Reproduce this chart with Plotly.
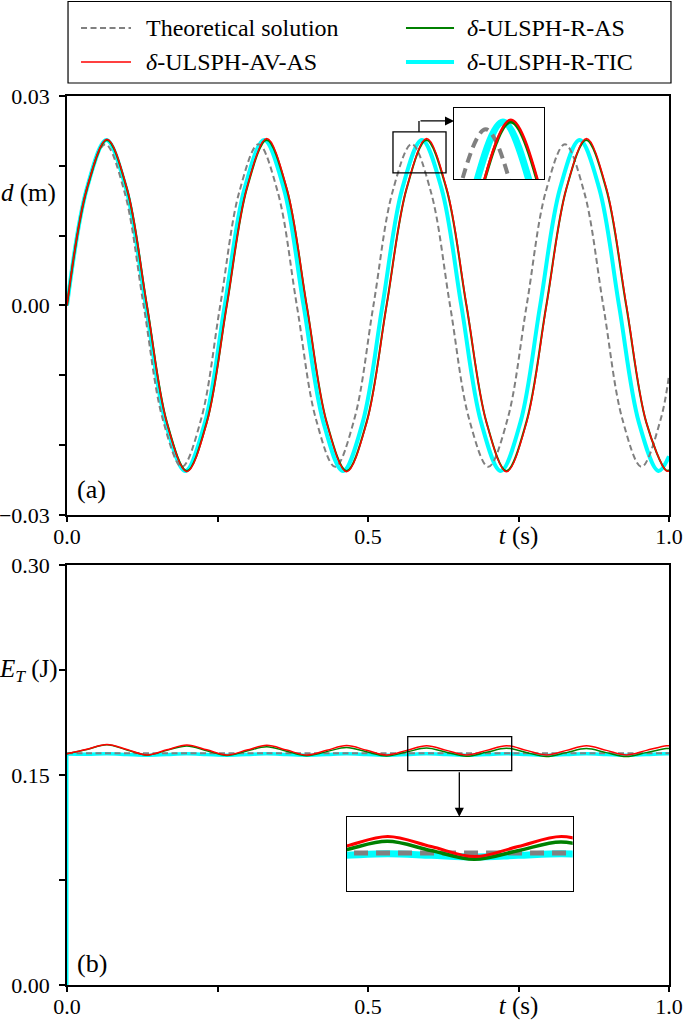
import plotly.graph_objects as go

FONT = "Liberation Serif"

# ---------------- data ----------------
# (a) displacement d (m) vs t (s)
theo_t = [0.0, 0.0318, 0.0636, 0.0954, 0.1273, 0.1591, 0.1909, 0.2227, 0.2545, 0.2863,
          0.3181, 0.3499, 0.3818, 0.4136, 0.4454, 0.4772, 0.5090, 0.5408, 0.5726, 0.6044,
          0.6363, 0.6681, 0.6999, 0.7317, 0.7635, 0.7953, 0.8271, 0.8589, 0.8908, 0.9226,
          0.9544, 0.9862, 1.0]
theo_d = [0.0, 0.0163, 0.0231, 0.0163, 0.0, -0.0163, -0.0231, -0.0163,
          0.0, 0.0163, 0.0231, 0.0163, 0.0, -0.0163, -0.0231, -0.0163,
          0.0, 0.0163, 0.0231, 0.0163, 0.0, -0.0163, -0.0231, -0.0163,
          0.0, 0.0163, 0.0231, 0.0163, 0.0, -0.0163, -0.0231, -0.0163, -0.0100]

av_t = [0.0, 0.0332, 0.0664, 0.0996, 0.1328, 0.1659, 0.1991, 0.2323, 0.2655, 0.2987,
        0.3319, 0.3651, 0.3983, 0.4315, 0.4646, 0.4978, 0.5310, 0.5642, 0.5974, 0.6306,
        0.6638, 0.6970, 0.7301, 0.7633, 0.7965, 0.8297, 0.8629, 0.8961, 0.9293, 0.9625,
        0.9956, 1.0]
av_d = [0.0, 0.0168, 0.0238, 0.0168, 0.0, -0.0168, -0.0238, -0.0168,
        0.0, 0.0168, 0.0239, 0.0168, 0.0, -0.0168, -0.0238, -0.0168,
        0.0, 0.0168, 0.0239, 0.0168, 0.0, -0.0168, -0.0238, -0.0168,
        0.0, 0.0168, 0.0239, 0.0168, 0.0, -0.0168, -0.0237, -0.0237]

ras_t = [0.0, 0.0331, 0.0663, 0.0995, 0.1327, 0.1658, 0.1990, 0.2322, 0.2654, 0.2986,
         0.3317, 0.3649, 0.3981, 0.4313, 0.4644, 0.4976, 0.5308, 0.5640, 0.5971, 0.6303,
         0.6635, 0.6967, 0.7298, 0.7630, 0.7962, 0.8294, 0.8625, 0.8957, 0.9289, 0.9621,
         0.9952, 1.0]
ras_d = [0.0, 0.0167, 0.0237, 0.0167, 0.0, -0.0167, -0.0237, -0.0167,
         0.0, 0.0167, 0.0237, 0.0167, 0.0, -0.0167, -0.0237, -0.0167,
         0.0, 0.0167, 0.0237, 0.0167, 0.0, -0.0167, -0.0237, -0.0167,
         0.0, 0.0167, 0.0237, 0.0167, 0.0, -0.0167, -0.0236, -0.0236]

tic_t = [0.0, 0.0328, 0.0655, 0.0983, 0.1310, 0.1638, 0.1965, 0.2293, 0.2620, 0.2948,
         0.3275, 0.3603, 0.3930, 0.4258, 0.4585, 0.4913, 0.5240, 0.5568, 0.5895, 0.6223,
         0.6550, 0.6878, 0.7205, 0.7533, 0.7860, 0.8188, 0.8515, 0.8843, 0.9170, 0.9498,
         0.9825, 1.0]
tic_d = [0.0, 0.0167, 0.0237, 0.0167, 0.0, -0.0167, -0.0237, -0.0167,
         0.0, 0.0167, 0.0237, 0.0167, 0.0, -0.0167, -0.0237, -0.0167,
         0.0, 0.0167, 0.0237, 0.0167, 0.0, -0.0167, -0.0237, -0.0167,
         0.0, 0.0167, 0.0237, 0.0167, 0.0, -0.0167, -0.0237, -0.0216]

# (b) total energy E_T (J) vs t (s)
theo_e_t = [0.0, 1.0]
theo_e = [0.1655, 0.1655]

av_e = [0.1652, 0.1684, 0.1718, 0.1682, 0.1643, 0.1680, 0.1714, 0.1680,
        0.1643, 0.1678, 0.1712, 0.1678, 0.1643, 0.1677, 0.1710, 0.1677,
        0.1643, 0.1676, 0.1709, 0.1676, 0.1643, 0.1676, 0.1709, 0.1676,
        0.1643, 0.1676, 0.1709, 0.1676, 0.1643, 0.1676, 0.1709, 0.1709]
ras_e = [0.1652, 0.1683, 0.1716, 0.1679, 0.1642, 0.1676, 0.1708, 0.1674,
         0.1640, 0.1671, 0.1702, 0.1670, 0.1638, 0.1667, 0.1697, 0.1666,
         0.1636, 0.1664, 0.1693, 0.1663, 0.1634, 0.1662, 0.1691, 0.1661,
         0.1632, 0.1660, 0.1689, 0.1660, 0.1632, 0.1660, 0.1689, 0.1689]
tic_e = [0.1650, 0.1648, 0.1652, 0.1647, 0.1642, 0.1647, 0.1652, 0.1647,
         0.1642, 0.1647, 0.1652, 0.1647, 0.1642, 0.1647, 0.1652, 0.1647,
         0.1642, 0.1647, 0.1652, 0.1647, 0.1642, 0.1647, 0.1652, 0.1647,
         0.1642, 0.1647, 0.1652, 0.1647, 0.1642, 0.1647, 0.1652, 0.1651]
# initial jump of the energy at t = 0
jump_t = [0.0, 0.0]
jump_e = [0.0, 0.1650]

# tick labels
x_tickvals = [0.0, 0.25, 0.5, 0.75, 1.0]
x_ticktext = ["0.0", "", "0.5", '<span style="font-size:25px"><i>t</i> (s)</span>', "1.0"]
d_tickvals = [-0.03, -0.02, -0.01, 0.0, 0.01, 0.02, 0.03]
d_ticktext = ["\u22120.03", "", "", "0.00", "", "", "0.03"]
e_tickvals = [0.0, 0.075, 0.15, 0.225, 0.30]
e_ticktext = ["0.00", "", "0.15", "", "0.30"]

names = ["Theoretical solution", "<i>\u03b4</i>-ULSPH-R-AS",
         "<i>\u03b4</i>-ULSPH-AV-AS", "<i>\u03b4</i>-ULSPH-R-TIC"]

# zoom windows (data coordinates)
zoomA_x = [0.5415, 0.6296]
zoomA_y = [0.0190, 0.02486]
zoomB_x = [0.566, 0.7387]
zoomB_y = [0.1531, 0.1774]

GRAY, GREEN, RED, CYAN = "#808080", "#008000", "#ff0000", "#00ffff"

fig = go.Figure()


def add(x, y, color, width, name, xa, ya, dash="solid", shape="spline"):
    fig.add_trace(go.Scatter(
        x=x, y=y, mode="lines", name=name, xaxis=xa, yaxis=ya,
        line=dict(color=color, width=width, dash=dash, shape=shape),
        showlegend=False, hoverinfo="skip"))


# panel (a)
add(tic_t, tic_d, CYAN, 4, names[3], "x", "y")
add(theo_t, theo_d, GRAY, 2, names[0], "x", "y", dash="6px,3.5px")
add(ras_t, ras_d, GREEN, 2, names[1], "x", "y")
add(av_t, av_d, RED, 1.5, names[2], "x", "y")

# panel (b)
add(jump_t, jump_e, CYAN, 3, "", "x2", "y2", shape="linear")
add(av_t, tic_e, CYAN, 3.5, names[3], "x2", "y2")
add(theo_e_t, theo_e, GRAY, 2, names[0], "x2", "y2", dash="6px,3.5px", shape="linear")
add(ras_t, ras_e, GREEN, 1.5, names[1], "x2", "y2")
add(av_t, av_e, RED, 1.5, names[2], "x2", "y2")

# inset (a)
add(tic_t, tic_d, CYAN, 7, names[3], "x3", "y3")
add(theo_t, theo_d, GRAY, 4, names[0], "x3", "y3", dash="10px,6px")
add(ras_t, ras_d, GREEN, 3, names[1], "x3", "y3")
add(av_t, av_d, RED, 2.5, names[2], "x3", "y3")

# inset (b)
add(av_t, tic_e, CYAN, 7, names[3], "x4", "y4")
add(theo_e_t, theo_e, GRAY, 5, names[0], "x4", "y4", dash="14px,8px", shape="linear")
add(ras_t, ras_e, GREEN, 3.5, names[1], "x4", "y4")
add(av_t, av_e, RED, 3, names[2], "x4", "y4")

tickfont = dict(family=FONT, size=22, color="black")
main_axis = dict(showline=True, mirror=True, linecolor="black", linewidth=1.5,
                 ticks="outside", ticklen=6, tickwidth=1.5, tickcolor="black",
                 showgrid=False, zeroline=False, tickfont=tickfont, tickmode="array",
                 automargin=False)
inset_axis = dict(showline=True, mirror=True, linecolor="black", linewidth=1.3,
                  ticks="", showticklabels=False, showgrid=False, zeroline=False)

fig.update_layout(
    width=685, height=1020,
    margin=dict(l=67, r=16, t=96, b=35, autoexpand=False),
    paper_bgcolor="white", plot_bgcolor="white",
    font=dict(family=FONT, size=22, color="black"),
    hovermode=False, showlegend=False,
    xaxis=dict(main_axis, domain=[0, 1], anchor="y", range=[0, 1], ticklen=5,
               tickvals=x_tickvals, ticktext=x_ticktext, ticklabelstandoff=-4),
    yaxis=dict(main_axis, domain=[0.5287, 1], anchor="x", range=[-0.03, 0.03],
               tickvals=d_tickvals, ticktext=d_ticktext, ticklabelstandoff=5),
    xaxis2=dict(main_axis, domain=[0, 1], anchor="y2", range=[0, 1], ticklen=5,
                tickvals=x_tickvals, ticktext=x_ticktext, ticklabelstandoff=-4),
    yaxis2=dict(main_axis, domain=[0, 0.4724], anchor="x2", range=[0, 0.30],
                tickvals=e_tickvals, ticktext=e_ticktext, ticklabelstandoff=5),
    xaxis3=dict(inset_axis, domain=[0.643, 0.792], anchor="y3", range=zoomA_x),
    yaxis3=dict(inset_axis, domain=[0.9066, 0.9865], anchor="x3", range=zoomA_y),
    xaxis4=dict(inset_axis, domain=[0.4646, 0.84], anchor="y4", range=zoomB_x),
    yaxis4=dict(inset_axis, domain=[0.1061, 0.1893], anchor="x4", range=zoomB_y),
)

# ---- legend box (drawn in paper coordinates above panel (a)) ----
fig.add_shape(type="rect", xref="paper", yref="paper", x0=0.0017, x1=1.0033,
              y0=1.0146, y1=1.1063, line=dict(color="black", width=1.2),
              fillcolor="white")
leg_items = [  # (name index, colour, width, dash, line x0, line x1, text x, row y)
    (0, GRAY, 2, "6px,3.5px", 0.0233, 0.1063, 0.1279, 1.0765),
    (1, GREEN, 2, "solid", 0.5631, 0.6429, 0.6611, 1.0765),
    (2, RED, 1.5, "solid", 0.0233, 0.1063, 0.1279, 1.0382),
    (3, CYAN, 4, "solid", 0.5631, 0.6429, 0.6611, 1.0382),
]
for idx, col, w, dsh, lx0, lx1, tx, ry in leg_items:
    fig.add_shape(type="line", xref="paper", yref="paper", x0=lx0, x1=lx1, y0=ry, y1=ry,
                  line=dict(color=col, width=w, dash=dsh))
    fig.add_annotation(x=tx, y=ry, xref="paper", yref="paper", text=names[idx],
                       showarrow=False, xanchor="left", yanchor="middle",
                       font=dict(family=FONT, size=24, color="black"))

fig.add_shape(type="rect", xref="x", yref="y", x0=zoomA_x[0], x1=zoomA_x[1],
              y0=zoomA_y[0], y1=zoomA_y[1], line=dict(color="black", width=1.3))
fig.add_shape(type="rect", xref="x2", yref="y2", x0=zoomB_x[0], x1=zoomB_x[1],
              y0=zoomB_y[0], y1=zoomB_y[1], line=dict(color="black", width=1.3))
# connector of inset (a): up from the box then right to the inset
fig.add_shape(type="line", xref="x", yref="y", x0=0.5847, x1=0.5847,
              y0=zoomA_y[1], y1=0.02643, line=dict(color="black", width=1.3))
fig.add_annotation(x=0.643, y=0.02643, ax=0.5847, ay=0.02643, xref="x", yref="y",
                   axref="x", ayref="y", text="", showarrow=True, arrowhead=2,
                   arrowsize=1.4, arrowwidth=1.3, arrowcolor="black", standoff=0)
# connector of inset (b)
fig.add_annotation(x=0.6517, y=0.1202, ax=0.6517, ay=zoomB_y[0], xref="x2", yref="y2",
                   axref="x2", ayref="y2", text="", showarrow=True, arrowhead=2,
                   arrowsize=1.4, arrowwidth=1.3, arrowcolor="black", standoff=0)

# axis titles placed beside the axes as in the reference
fig.add_annotation(x=-0.015, y=0.0161, xref="paper", yref="y", text="<i>d</i> (m)",
                   showarrow=False, xanchor="right", yanchor="middle",
                   font=dict(family=FONT, size=25, color="black"))
fig.add_annotation(x=-0.0116, y=0.225, xref="paper", yref="y2",
                   text="<i>E<sub>T</sub></i> (J)",
                   showarrow=False, xanchor="right", yanchor="middle",
                   font=dict(family=FONT, size=25, color="black"))
fig.add_annotation(x=0.014, y=-0.0264, xref="x", yref="y", text="(a)",
                   showarrow=False, xanchor="left", yanchor="middle",
                   font=dict(family=FONT, size=26, color="black"))
fig.add_annotation(x=0.014, y=0.0157, xref="x2", yref="y2", text="(b)",
                   showarrow=False, xanchor="left", yanchor="middle",
                   font=dict(family=FONT, size=26, color="black"))

fig.write_html("out.html", config={"displayModeBar": False},
               post_script="document.body.style.margin='0px';")
